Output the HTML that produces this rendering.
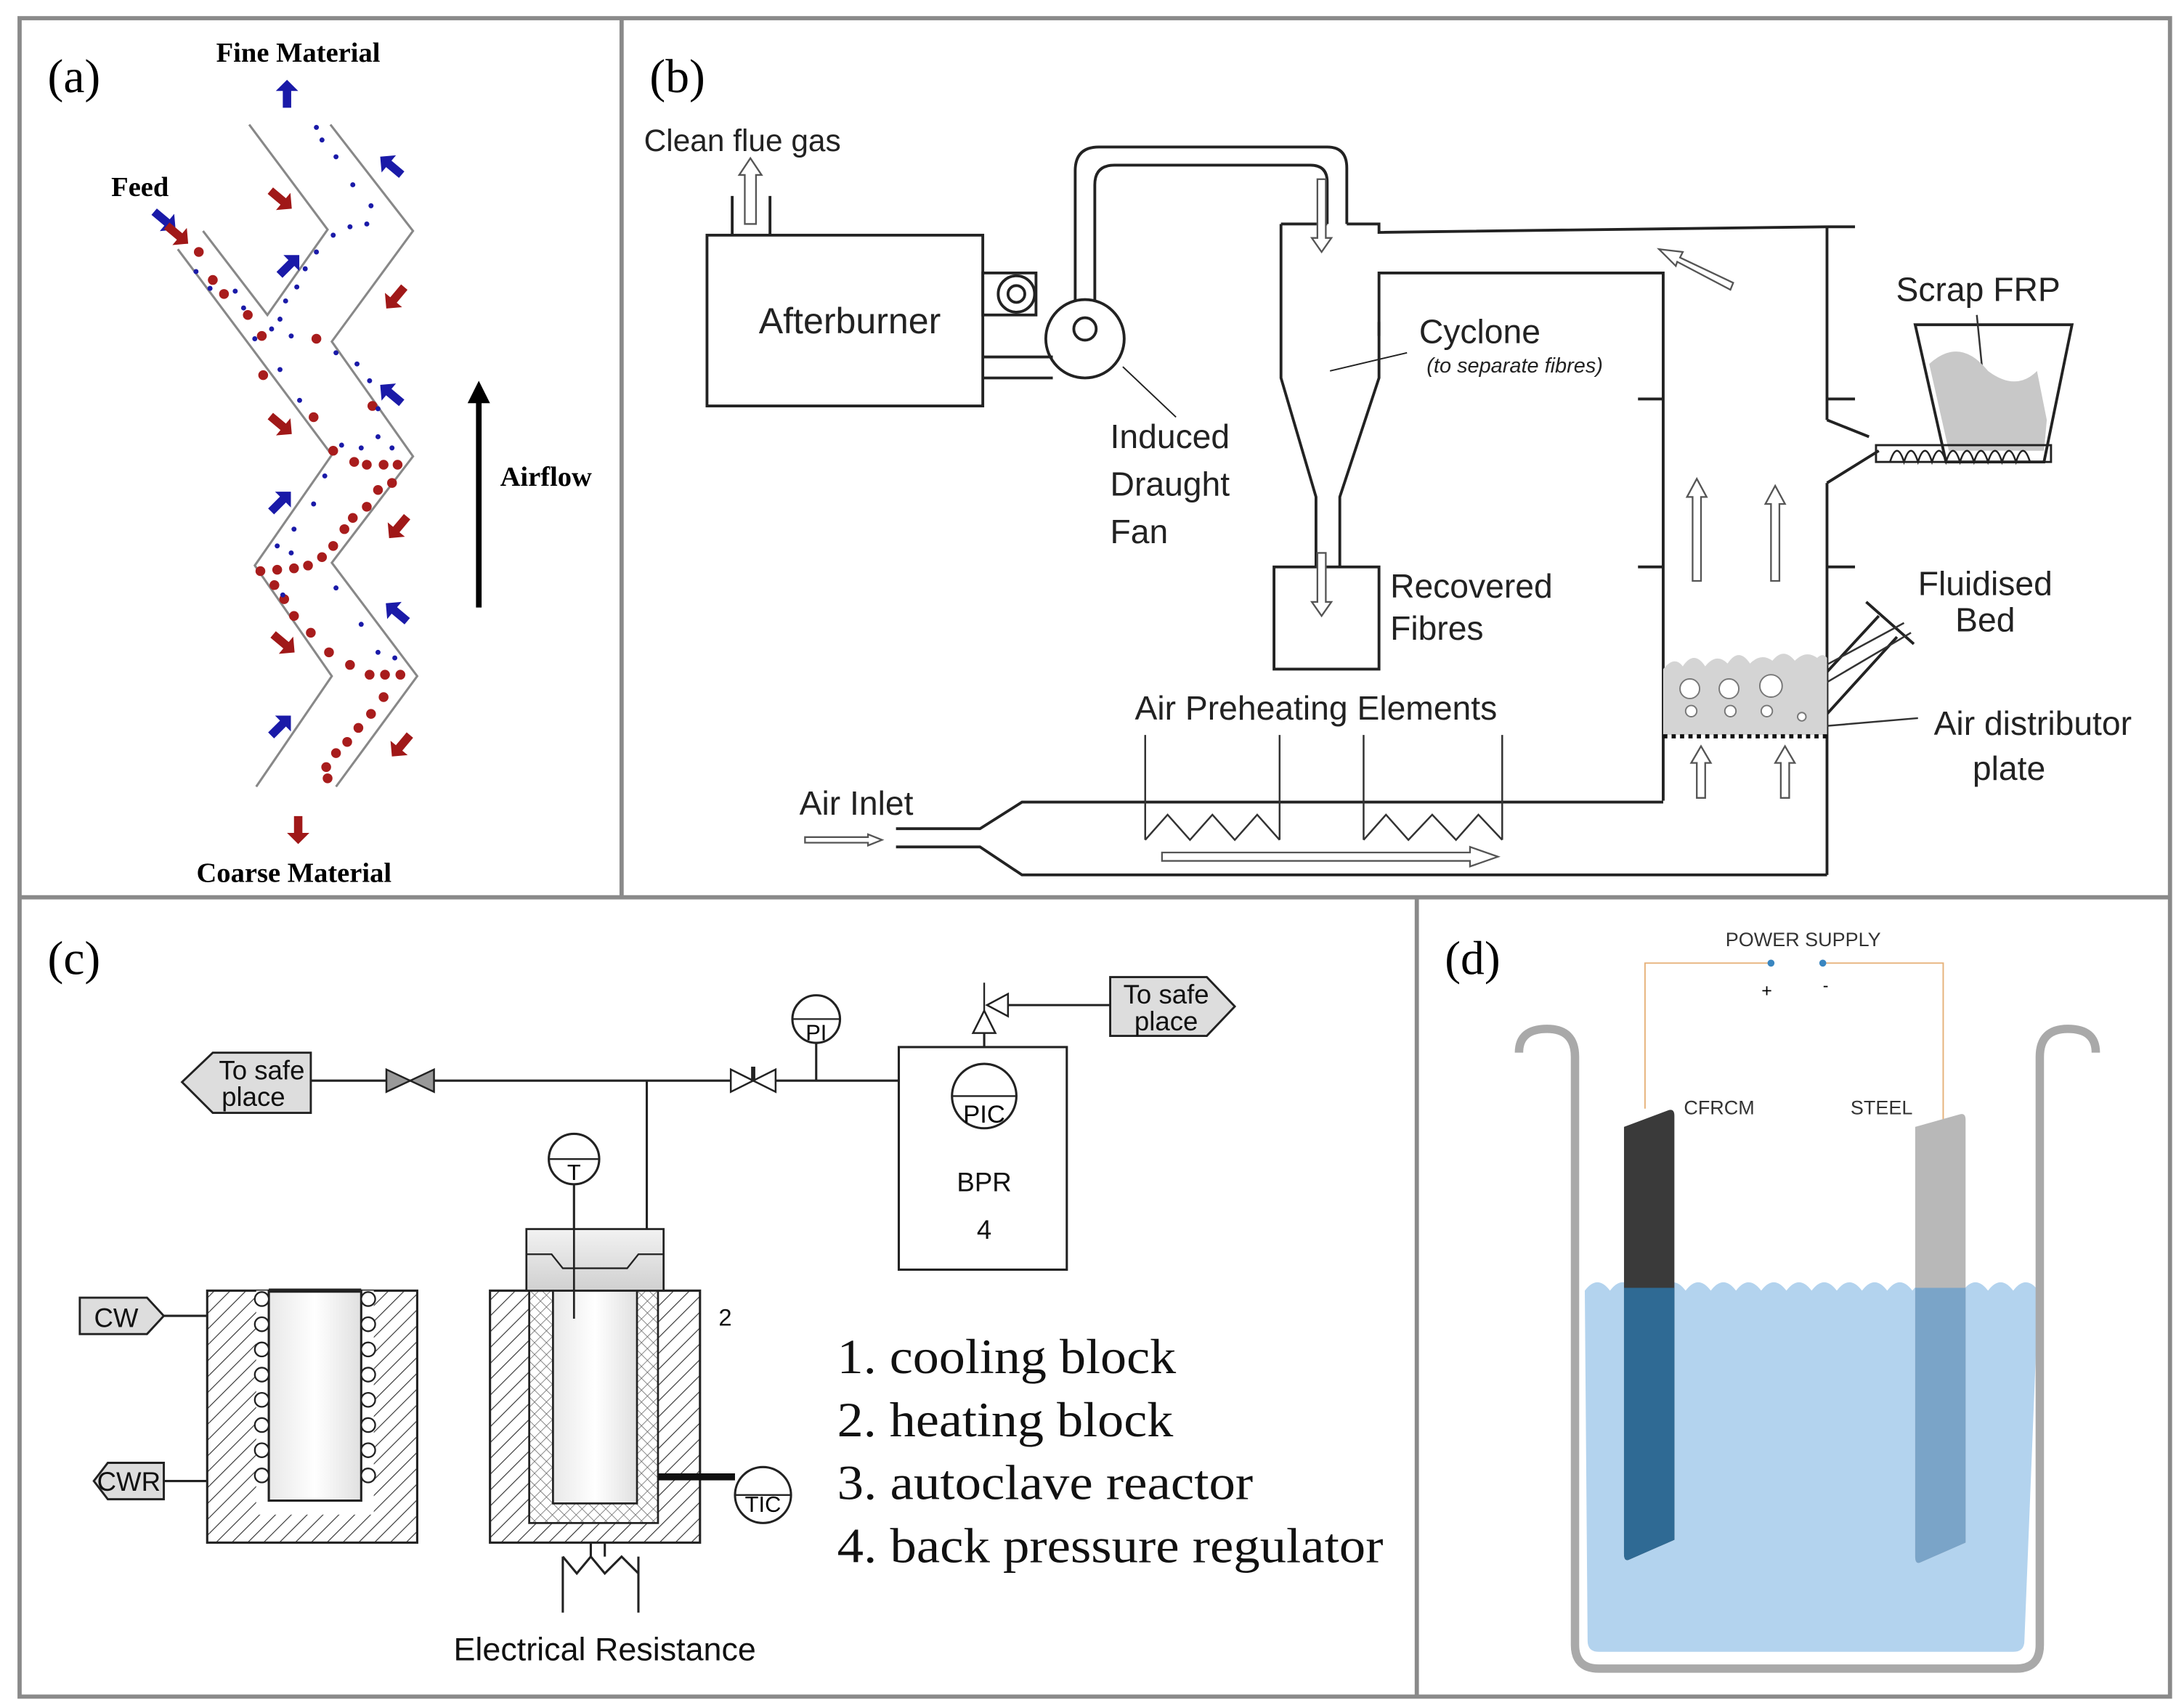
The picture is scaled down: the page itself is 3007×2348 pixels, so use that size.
<!DOCTYPE html>
<html><head><meta charset="utf-8"><style>
html,body{margin:0;padding:0;background:#fff}
svg{display:block}
</style></head><body>
<svg width="3007" height="2348" viewBox="0 0 1560 1218" preserveAspectRatio="none" xmlns="http://www.w3.org/2000/svg">
<defs>
<pattern id="hatch" width="8" height="8" patternUnits="userSpaceOnUse" patternTransform="rotate(45)">
<rect width="8" height="8" fill="#fff"/><line x1="0" y1="0" x2="0" y2="8" stroke="#333" stroke-width="1.2"/></pattern>
<pattern id="xhatch" width="6" height="6" patternUnits="userSpaceOnUse" patternTransform="rotate(45)">
<rect width="6" height="6" fill="#fff"/><line x1="0" y1="0" x2="0" y2="6" stroke="#666" stroke-width="0.8"/><line x1="0" y1="0" x2="6" y2="0" stroke="#666" stroke-width="0.8"/></pattern>
<linearGradient id="gcap" x1="0" y1="0" x2="0" y2="1"><stop offset="0" stop-color="#f2f2f2"/><stop offset="1" stop-color="#d0d0d0"/></linearGradient>
<linearGradient id="ginner" x1="0" y1="0" x2="1" y2="0"><stop offset="0" stop-color="#e8e8e8"/><stop offset="0.5" stop-color="#fff"/><stop offset="1" stop-color="#e0e0e0"/></linearGradient>
<g id="ra"><polygon points="-9,-3 3,-3 3,-8 11,0 3,8 3,3 -9,3" fill="#a01818"/></g>
<g id="ba"><polygon points="-9,-3 3,-3 3,-8 11,0 3,8 3,3 -9,3" fill="#1a1aa8"/></g>
</defs>
<rect width="1560" height="1218" fill="#fff"/>
<g stroke="#8a8a8a" stroke-width="3" fill="none">
<rect x="14" y="13" width="1536" height="1199"/>
<line x1="444" y1="13" x2="444" y2="641"/>
<line x1="14" y1="641" x2="1550" y2="641"/>
<line x1="1012" y1="641" x2="1012" y2="1212"/>
</g>

<!-- PANEL A -->
<text x="34" y="66" font-family="Liberation Serif,serif" font-size="34">(a)</text>
<g font-family="Liberation Serif,serif" font-weight="bold" font-size="20" text-anchor="middle">
<text x="213" y="44">Fine Material</text>
<text x="100" y="140">Feed</text>
<text x="210" y="630">Coarse Material</text>
<text x="390" y="347">Airflow</text>
</g>
<line x1="342" y1="434" x2="342" y2="286" stroke="#000" stroke-width="4"/>
<polygon points="334,288 342,272 350,288" fill="#000"/>
<g stroke="#888" stroke-width="1.6" fill="none">
<polyline points="145,165 191,225 234,164 178,89"/>
<polyline points="236,89 295,165 237,244 295,326 237,402 298,483 240,562"/>
<polyline points="127,178 237,325 182,404 237,483 183,562"/>
</g>
<g fill="#a81c1c">
<circle cx="142" cy="180" r="3.5"/><circle cx="152" cy="200" r="3.5"/><circle cx="160" cy="210" r="3.5"/><circle cx="177" cy="225" r="3.5"/>
<circle cx="187" cy="240" r="3.5"/><circle cx="188" cy="268" r="3.5"/><circle cx="226" cy="242" r="3.5"/><circle cx="224" cy="298" r="3.5"/>
<circle cx="266" cy="290" r="3.5"/><circle cx="238" cy="322" r="3.5"/><circle cx="253" cy="330" r="3.5"/><circle cx="262" cy="332" r="3.5"/>
<circle cx="274" cy="332" r="3.5"/><circle cx="284" cy="332" r="3.5"/><circle cx="280" cy="345" r="3.5"/><circle cx="270" cy="350" r="3.5"/>
<circle cx="262" cy="362" r="3.5"/><circle cx="252" cy="370" r="3.5"/><circle cx="246" cy="378" r="3.5"/><circle cx="238" cy="390" r="3.5"/>
<circle cx="230" cy="398" r="3.5"/><circle cx="220" cy="404" r="3.5"/><circle cx="210" cy="406" r="3.5"/><circle cx="198" cy="407" r="3.5"/>
<circle cx="186" cy="408" r="3.5"/><circle cx="196" cy="418" r="3.5"/><circle cx="203" cy="428" r="3.5"/><circle cx="210" cy="440" r="3.5"/>
<circle cx="222" cy="452" r="3.5"/><circle cx="235" cy="466" r="3.5"/><circle cx="250" cy="475" r="3.5"/><circle cx="264" cy="482" r="3.5"/>
<circle cx="275" cy="482" r="3.5"/><circle cx="286" cy="482" r="3.5"/><circle cx="274" cy="498" r="3.5"/><circle cx="265" cy="510" r="3.5"/>
<circle cx="256" cy="520" r="3.5"/><circle cx="248" cy="530" r="3.5"/><circle cx="240" cy="538" r="3.5"/><circle cx="233" cy="548" r="3.5"/><circle cx="234" cy="556" r="3.5"/>
</g>
<g fill="#1a1aa8">
<circle cx="226" cy="91" r="1.8"/><circle cx="230" cy="100" r="1.8"/><circle cx="240" cy="112" r="1.8"/><circle cx="252" cy="132" r="1.8"/>
<circle cx="265" cy="147" r="1.8"/><circle cx="262" cy="160" r="1.8"/><circle cx="250" cy="162" r="1.8"/><circle cx="238" cy="168" r="1.8"/>
<circle cx="226" cy="180" r="1.8"/><circle cx="218" cy="192" r="1.8"/><circle cx="212" cy="205" r="1.8"/><circle cx="204" cy="215" r="1.8"/>
<circle cx="140" cy="194" r="1.8"/><circle cx="150" cy="206" r="1.8"/><circle cx="168" cy="208" r="1.8"/><circle cx="174" cy="220" r="1.8"/>
<circle cx="200" cy="228" r="1.8"/><circle cx="194" cy="235" r="1.8"/><circle cx="182" cy="242" r="1.8"/><circle cx="208" cy="240" r="1.8"/>
<circle cx="240" cy="252" r="1.8"/><circle cx="255" cy="260" r="1.8"/><circle cx="264" cy="272" r="1.8"/><circle cx="270" cy="292" r="1.8"/>
<circle cx="200" cy="264" r="1.8"/><circle cx="214" cy="286" r="1.8"/><circle cx="244" cy="318" r="1.8"/><circle cx="270" cy="312" r="1.8"/>
<circle cx="280" cy="320" r="1.8"/><circle cx="258" cy="320" r="1.8"/><circle cx="232" cy="340" r="1.8"/><circle cx="224" cy="360" r="1.8"/>
<circle cx="210" cy="378" r="1.8"/><circle cx="198" cy="390" r="1.8"/><circle cx="208" cy="395" r="1.8"/><circle cx="202" cy="425" r="1.8"/>
<circle cx="240" cy="420" r="1.8"/><circle cx="258" cy="446" r="1.8"/><circle cx="270" cy="466" r="1.8"/><circle cx="282" cy="470" r="1.8"/>
</g>
<use href="#ba" transform="translate(117,157) rotate(40)"/>
<use href="#ra" transform="translate(126,167) rotate(40)"/>
<use href="#ba" transform="translate(205,68) rotate(-90)"/>
<use href="#ra" transform="translate(213,592) rotate(90)"/>
<use href="#ra" transform="translate(200,142) rotate(40)"/>
<use href="#ra" transform="translate(283,212) rotate(130)"/>
<use href="#ra" transform="translate(200,303) rotate(40)"/>
<use href="#ra" transform="translate(285,376) rotate(130)"/>
<use href="#ra" transform="translate(202,459) rotate(40)"/>
<use href="#ra" transform="translate(287,532) rotate(130)"/>
<use href="#ba" transform="translate(280,119) rotate(-140)"/>
<use href="#ba" transform="translate(206,190) rotate(-45)"/>
<use href="#ba" transform="translate(280,282) rotate(-140)"/>
<use href="#ba" transform="translate(200,359) rotate(-45)"/>
<use href="#ba" transform="translate(284,438) rotate(-140)"/>
<use href="#ba" transform="translate(200,519) rotate(-45)"/>

<!-- PANEL B -->
<text x="464" y="66" font-family="Liberation Serif,serif" font-size="34">(b)</text>
<g font-family="Liberation Sans,sans-serif" font-size="24" fill="#222">
<text x="460" y="108" font-size="22">Clean flue gas</text>
<text x="607" y="238" text-anchor="middle" font-size="26">Afterburner</text>
<text x="1057" y="245" text-anchor="middle">Cyclone</text>
<text x="1082" y="266" text-anchor="middle" font-size="15" font-style="italic">(to separate fibres)</text>
<text x="793" y="320">Induced</text>
<text x="793" y="354">Draught</text>
<text x="793" y="388">Fan</text>
<text x="993" y="427">Recovered</text>
<text x="993" y="457">Fibres</text>
<text x="940" y="514" text-anchor="middle">Air Preheating Elements</text>
<text x="571" y="582">Air Inlet</text>
<text x="1413" y="215" text-anchor="middle">Scrap FRP</text>
<text x="1418" y="425" text-anchor="middle">Fluidised</text>
<text x="1418" y="451" text-anchor="middle">Bed</text>
<text x="1452" y="525" text-anchor="middle">Air distributor</text>
<text x="1435" y="557" text-anchor="middle">plate</text>
</g>
<g stroke="#222" stroke-width="2" fill="none">
<rect x="505" y="168" width="197" height="122"/>
<line x1="523" y1="140" x2="523" y2="168"/><line x1="550" y1="140" x2="550" y2="168"/>
<rect x="702" y="195" width="38" height="30"/>
<circle cx="726" cy="210" r="13"/><circle cx="726" cy="210" r="6"/>
<line x1="702" y1="255" x2="752" y2="255"/><line x1="702" y1="270" x2="752" y2="270"/>
<circle cx="775" cy="242" r="28"/><circle cx="775" cy="235" r="8"/>
<path d="M768,215 V122 Q768,105 785,105 H948 Q962,105 962,120 V160"/>
<path d="M782,215 V132 Q782,118 796,118 H936 Q948,118 948,130 V160"/>
<polyline points="915,160 948,160"/><polyline points="962,160 985,160 985,166 1305,162"/>
<polyline points="915,160 915,270 940,355 940,405"/>
<polyline points="985,240 985,195 1188,195 1188,572"/>
<polyline points="985,230 985,270 957,355 957,405"/>
<rect x="910" y="405" width="75" height="73"/>
<line x1="950" y1="265" x2="1005" y2="252" stroke-width="1"/>
<line x1="802" y1="262" x2="840" y2="298" stroke-width="1"/>
<line x1="1305" y1="162" x2="1305" y2="300"/>
<line x1="1305" y1="345" x2="1305" y2="625"/>
<polyline points="640,592 700,592 730,573 1188,573"/>
<polyline points="640,605 700,605 730,625 1305,625"/>
<line x1="1170" y1="285" x2="1188" y2="285"/><line x1="1170" y1="405" x2="1188" y2="405"/>
<line x1="1305" y1="285" x2="1325" y2="285"/><line x1="1305" y1="405" x2="1325" y2="405"/><line x1="1305" y1="162" x2="1325" y2="162"/>
<line x1="1305" y1="300" x2="1335" y2="312"/><line x1="1305" y1="345" x2="1342" y2="322"/>
<line x1="1305" y1="480" x2="1342" y2="440"/><line x1="1305" y1="510" x2="1355" y2="455"/>
<line x1="1333" y1="430" x2="1367" y2="460"/>
<polygon points="1368,232 1480,232 1460,330 1390,330"/>
</g>
<g stroke="#333" stroke-width="1.3" fill="none">
<line x1="818" y1="525" x2="818" y2="600"/><line x1="914" y1="525" x2="914" y2="600"/>
<line x1="974" y1="525" x2="974" y2="600"/><line x1="1073" y1="525" x2="1073" y2="600"/>
<polyline points="818,600 834,582 850,600 866,582 882,600 898,582 914,600"/>
<polyline points="974,600 990,582 1006,600 1023,582 1040,600 1056,582 1073,600"/>
<line x1="1360" y1="445" x2="1262" y2="498"/><line x1="1365" y1="452" x2="1275" y2="505"/>
<line x1="1370" y1="513" x2="1288" y2="520"/>
<line x1="1412" y1="225" x2="1418" y2="285"/>
</g>
<g fill="#fff" stroke="#555" stroke-width="1.2">
<polygon points="532,160 532,125 528,125 536,113 544,125 540,125 540,160"/>
<polygon points="941,128 941,170 937,170 944,180 951,170 947,170 947,128"/>
<polygon points="941,395 941,430 937,430 944,440 951,430 947,430 947,395"/>
<polygon points="1209,415 1209,355 1205,355 1212,342 1219,355 1215,355 1215,415"/>
<polygon points="1265,415 1265,360 1261,360 1268,347 1275,360 1271,360 1271,415"/>
<polygon points="1212,570 1212,545 1208,545 1215,533 1222,545 1218,545 1218,570"/>
<polygon points="1272,570 1272,545 1268,545 1275,533 1282,545 1278,545 1278,570"/>
<polygon points="830,609 1050,609 1050,605 1070,612 1050,619 1050,615 830,615"/>
<polygon points="575,598 620,598 620,596 630,600 620,604 620,602 575,602"/>
<polygon points="1238,202 1200,184 1202,180 1185,178 1197,190 1198,187 1236,207"/>
</g>
<path d="M1378,260 Q1400,240 1420,265 Q1440,280 1455,265 L1462,300 L1460,322 L1392,322 Z" fill="#c8c8c8"/>
<rect x="1340" y="318" width="125" height="12" fill="none" stroke="#222" stroke-width="1.5"/>
<path d="M1350,330 q5,-16 10,0 q5,-16 10,0 q5,-16 10,0 q5,-16 10,0 q5,-16 10,0 q5,-16 10,0 q5,-16 10,0 q5,-16 10,0 q5,-16 10,0 q5,-16 10,0" fill="none" stroke="#222" stroke-width="1.3"/>
<path d="M1188,478 q8,-10 14,-2 q8,-12 16,0 q8,-10 16,-2 q8,-12 16,0 q8,-8 16,-2 q8,-10 16,0 q8,-8 16,-2 q4,-4 7,0 L1305,525 L1188,525 Z" fill="#d4d4d4"/>
<g fill="#fff" stroke="#777" stroke-width="1">
<circle cx="1207" cy="492" r="7"/><circle cx="1235" cy="492" r="7"/><circle cx="1265" cy="490" r="8"/>
<circle cx="1208" cy="508" r="4"/><circle cx="1236" cy="508" r="4"/><circle cx="1262" cy="508" r="4"/><circle cx="1287" cy="512" r="3"/>
</g>
<line x1="1188" y1="526" x2="1305" y2="526" stroke="#111" stroke-width="3" stroke-dasharray="3,3"/>

<!-- PANEL C -->
<text x="34" y="696" font-family="Liberation Serif,serif" font-size="34">(c)</text>
<g stroke="#222" stroke-width="1.6" fill="none">
<line x1="222" y1="772" x2="642" y2="772"/>
<line x1="462" y1="772" x2="462" y2="878"/>
<line x1="583" y1="745" x2="583" y2="772"/>
<line x1="720" y1="718" x2="793" y2="718"/>
<line x1="703" y1="730" x2="703" y2="748"/>
<rect x="642" y="748" width="120" height="159"/>
<line x1="410" y1="846" x2="410" y2="942"/>
<line x1="117" y1="940" x2="148" y2="940"/><line x1="117" y1="1058" x2="148" y2="1058"/>
</g>
<polygon points="130,773 152,752 222,752 222,795 152,795" fill="#ddd" stroke="#222" stroke-width="1.5"/>
<polygon points="793,698 862,698 882,719 862,740 793,740" fill="#ddd" stroke="#222" stroke-width="1.5"/>
<polygon points="57,927 105,927 117,940 105,953 57,953" fill="#ddd" stroke="#222" stroke-width="1.5"/>
<polygon points="67,1058 77,1045 117,1045 117,1071 77,1071" fill="#ddd" stroke="#222" stroke-width="1.5"/>
<polygon points="276,764 276,780 310,764 310,780" fill="#999" stroke="#222" stroke-width="1.3"/>
<polygon points="522,764 522,780 554,764 554,780" fill="#fff" stroke="#222" stroke-width="1.3"/>
<line x1="538" y1="772" x2="538" y2="762" stroke="#222" stroke-width="3"/>
<polygon points="695,738 711,738 703,722" fill="#fff" stroke="#222" stroke-width="1.3"/>
<polygon points="720,710 720,726 705,718" fill="#fff" stroke="#222" stroke-width="1.3"/>
<line x1="703" y1="722" x2="703" y2="702" stroke="#222" stroke-width="1.2"/>
<g font-family="Liberation Sans,sans-serif" font-size="19" text-anchor="middle" fill="#111">
<text x="187" y="771">To safe</text><text x="181" y="790">place</text>
<text x="833" y="717">To safe</text><text x="833" y="736">place</text>
<text x="83" y="948">CW</text><text x="92" y="1065">CWR</text>
<text x="703" y="851">BPR</text><text x="703" y="885">4</text>
<text x="518" y="947" font-size="17">2</text><text x="424" y="1060">3</text><text x="224" y="1049" font-size="17">1</text>
</g>
<text x="324" y="1186" font-family="Liberation Sans,sans-serif" font-size="23" textLength="216" lengthAdjust="spacingAndGlyphs" fill="#111">Electrical Resistance</text>
<g fill="#fff" stroke="#222" stroke-width="1.6">
<circle cx="583" cy="728" r="17"/><circle cx="703" cy="783" r="23"/><circle cx="410" cy="828" r="18"/><circle cx="545" cy="1068" r="20"/>
</g>
<g stroke="#222" stroke-width="1.2"><line x1="566" y1="728" x2="600" y2="728"/><line x1="680" y1="783" x2="726" y2="783"/><line x1="392" y1="828" x2="428" y2="828"/><line x1="525" y1="1068" x2="565" y2="1068"/></g>
<g font-family="Liberation Sans,sans-serif" font-size="16" text-anchor="middle">
<text x="583" y="743">PI</text><text x="703" y="802" font-size="18">PIC</text><text x="410" y="843">T</text><text x="545" y="1080">TIC</text>
</g>
<rect x="148" y="922" width="150" height="180" fill="url(#hatch)" stroke="#222" stroke-width="1.6"/>
<rect x="183" y="922" width="84" height="160" fill="#fff" stroke="none"/>
<rect x="192" y="922" width="66" height="150" fill="url(#ginner)" stroke="#222" stroke-width="1.6"/>
<g fill="#fff" stroke="#222" stroke-width="1.2">
<circle cx="187" cy="928" r="5"/><circle cx="187" cy="946" r="5"/><circle cx="187" cy="964" r="5"/><circle cx="187" cy="982" r="5"/><circle cx="187" cy="1000" r="5"/><circle cx="187" cy="1018" r="5"/><circle cx="187" cy="1036" r="5"/><circle cx="187" cy="1054" r="5"/>
<circle cx="263" cy="928" r="5"/><circle cx="263" cy="946" r="5"/><circle cx="263" cy="964" r="5"/><circle cx="263" cy="982" r="5"/><circle cx="263" cy="1000" r="5"/><circle cx="263" cy="1018" r="5"/><circle cx="263" cy="1036" r="5"/><circle cx="263" cy="1054" r="5"/>
</g>
<line x1="192" y1="922" x2="258" y2="922" stroke="#222" stroke-width="3"/>
<rect x="350" y="922" width="150" height="180" fill="url(#hatch)" stroke="#222" stroke-width="1.6"/>
<rect x="378" y="922" width="92" height="166" fill="url(#xhatch)" stroke="#222" stroke-width="1.4"/>
<rect x="395" y="922" width="60" height="152" fill="url(#ginner)" stroke="#222" stroke-width="1.4"/>
<rect x="376" y="878" width="98" height="44" fill="url(#gcap)" stroke="#222" stroke-width="1.4"/>
<polyline points="376,896 394,896 402,906 448,906 456,896 474,896" fill="none" stroke="#222" stroke-width="1.2"/>
<line x1="410" y1="878" x2="410" y2="942" stroke="#222" stroke-width="1.4"/>
<line x1="470" y1="1055" x2="525" y2="1055" stroke="#111" stroke-width="5"/>
<g stroke="#222" stroke-width="1.6" fill="none">
<line x1="422" y1="1102" x2="422" y2="1112"/><line x1="432" y1="1102" x2="432" y2="1112"/>
<line x1="402" y1="1112" x2="402" y2="1152"/><line x1="456" y1="1112" x2="456" y2="1152"/>
<polyline points="402,1112 412,1124 422,1112 432,1124 444,1112 456,1124"/>
</g>
<g font-family="Liberation Serif,serif" font-size="35" fill="#111" lengthAdjust="spacingAndGlyphs">
<text x="598" y="981" textLength="242" lengthAdjust="spacingAndGlyphs">1. cooling block</text>
<text x="598" y="1026" textLength="240" lengthAdjust="spacingAndGlyphs">2. heating block</text>
<text x="598" y="1071" textLength="297" lengthAdjust="spacingAndGlyphs">3. autoclave reactor</text>
<text x="598" y="1116" textLength="390" lengthAdjust="spacingAndGlyphs">4. back pressure regulator</text>
</g>

<!-- PANEL D -->
<text x="1032" y="696" font-family="Liberation Serif,serif" font-size="34">(d)</text>
<text x="1288" y="676" font-family="Liberation Sans,sans-serif" font-size="14" text-anchor="middle" fill="#333">POWER SUPPLY</text>
<polyline points="1175,792 1175,688 1265,688" fill="none" stroke="#e6b27a" stroke-width="1"/>
<polyline points="1302,688 1388,688 1388,800" fill="none" stroke="#e6b27a" stroke-width="1"/>
<circle cx="1265" cy="688" r="2.5" fill="#3a86c0"/><circle cx="1302" cy="688" r="2.5" fill="#3a86c0"/>
<text x="1262" y="712" font-family="Liberation Sans,sans-serif" font-size="13" text-anchor="middle">+</text>
<text x="1304" y="708" font-family="Liberation Sans,sans-serif" font-size="12" text-anchor="middle">-</text>
<path d="M1132,922 q9,-12 18,0 q9,-12 18,0 q9,-12 18,0 q9,-12 18,0 q9,-12 18,0 q9,-12 18,0 q9,-12 18,0 q9,-12 18,0 q9,-12 18,0 q9,-12 18,0 q9,-12 18,0 q9,-12 18,0 q9,-12 18,0 q9,-12 18,0 q9,-12 18,0 q9,-12 18,0 q9,-12 18,0 q9,-12 18,0 L1446,1172 Q1446,1180 1438,1180 L1142,1180 Q1134,1180 1134,1172 Z" fill="#b3d3ee"/>
<path d="M1085,752 Q1085,735 1105,735 Q1125,735 1125,755 L1125,1175 Q1125,1192 1142,1192 L1440,1192 Q1457,1192 1457,1175 L1457,755 Q1457,735 1477,735 Q1497,735 1497,752" fill="none" stroke="#a9a9a9" stroke-width="6"/>
<path d="M1160,805 L1192,793 Q1196,792 1196,797 L1196,1100 L1164,1114 Q1160,1116 1160,1110 Z" fill="#3a3a3a"/>
<path d="M1160,920 L1196,920 L1196,1100 L1164,1114 Q1160,1116 1160,1110 Z" fill="#2f6a94"/>
<path d="M1368,805 L1400,796 Q1404,795 1404,800 L1404,1102 L1372,1116 Q1368,1118 1368,1112 Z" fill="#b8b8b8"/>
<path d="M1368,920 L1404,920 L1404,1102 L1372,1116 Q1368,1118 1368,1112 Z" fill="#7aa4c8"/>
<text x="1228" y="796" font-family="Liberation Sans,sans-serif" font-size="14" text-anchor="middle" fill="#333">CFRCM</text>
<text x="1344" y="796" font-family="Liberation Sans,sans-serif" font-size="14" text-anchor="middle" fill="#333">STEEL</text>
</svg>
</body></html>
